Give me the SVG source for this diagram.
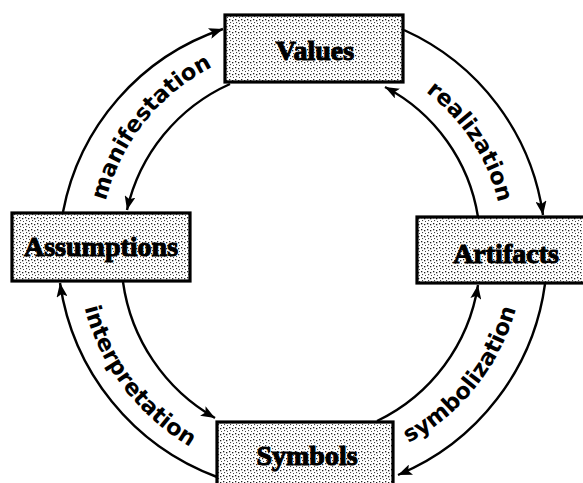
<svg xmlns="http://www.w3.org/2000/svg" width="583" height="483" viewBox="0 0 583 483">
<style>
.box{stroke:#000;stroke-width:3.2;fill:url(#stip)}
.lbl{font-family:"Liberation Serif","Times New Roman",serif;font-weight:bold;font-size:28px;fill:#000;stroke:#000;stroke-width:1.1;text-anchor:middle}
.arc{fill:none;stroke:#000;stroke-width:2.4;marker-end:url(#ah)}
.cap{font-family:"DejaVu Sans","Liberation Sans",sans-serif;font-weight:bold;font-size:22.5px;fill:#000}
</style>
<defs>
<pattern id="stip" width="6" height="6" patternUnits="userSpaceOnUse">
<rect width="6" height="6" fill="#fff"/>
<rect x="1" y="1" width="1.3" height="1.3" fill="#222"/>
<rect x="4" y="2" width="1.3" height="1.3" fill="#222"/>
<rect x="2" y="4" width="1.1" height="1.1" fill="#444"/>
<rect x="5" y="5" width="1.1" height="1.1" fill="#444"/>
</pattern>
<marker id="ah" markerUnits="userSpaceOnUse" markerWidth="15" markerHeight="11" refX="14" refY="5.5" orient="auto">
<path d="M0,0 L14,5.5 L0,11 L3,5.5 z" fill="#000"/>
</marker>
<path id="tp1" d="M100.07,255.37 A205,205 0 0 1 264.13,49.12"/>
<path id="tp2" d="M362.52,59.49 A199,199 0 0 1 502.6,273.56"/>
<path id="tp3" d="M77.27,238.86 A228,228 0 0 0 254.49,472.33"/>
<path id="tp4" d="M348.1,464.72 A219,219 0 0 0 523.94,244.84"/>
</defs>
<rect width="583" height="483" fill="#fff"/>
<g id="connectors">
<path class="arc" d="M63,212 A240,240 0 0 1 223,29"/>
<path class="arc" d="M230,84 A182,182 0 0 0 127,210"/>
<path class="arc" d="M404,30 A240,240 0 0 1 543,215"/>
<path class="arc" d="M478,217 A178,178 0 0 0 385,87"/>
<path class="arc" d="M217,477 A244,244 0 0 1 60,283"/>
<path class="arc" d="M123,282 A186,186 0 0 0 215,418"/>
<path class="arc" d="M545,284 A242,242 0 0 1 398,475"/>
<path class="arc" d="M377,421 A182,182 0 0 0 478,285"/>
<text class="cap"><textPath href="#tp1" startOffset="50%" text-anchor="middle">manifestation</textPath></text>
<text class="cap"><textPath href="#tp2" startOffset="50%" text-anchor="middle">realization</textPath></text>
<text class="cap"><textPath href="#tp3" startOffset="50%" text-anchor="middle">interpretation</textPath></text>
<text class="cap"><textPath href="#tp4" startOffset="50%" text-anchor="middle">symbolization</textPath></text>
</g>
<g id="values">
<rect class="box" x="225" y="15" width="178" height="67"/>
<text class="lbl" x="315" y="60">Values</text>
</g>
<g id="assumptions">
<rect class="box" x="12" y="213" width="178" height="68"/>
<text class="lbl" x="101" y="256">Assumptions</text>
</g>
<g id="artifacts">
<rect class="box" x="417" y="217" width="180" height="66"/>
<text class="lbl" x="506" y="263">Artifacts</text>
</g>
<g id="symbols">
<rect class="box" x="217" y="422" width="176" height="72"/>
<text class="lbl" x="307" y="465">Symbols</text>
</g>
</svg>
